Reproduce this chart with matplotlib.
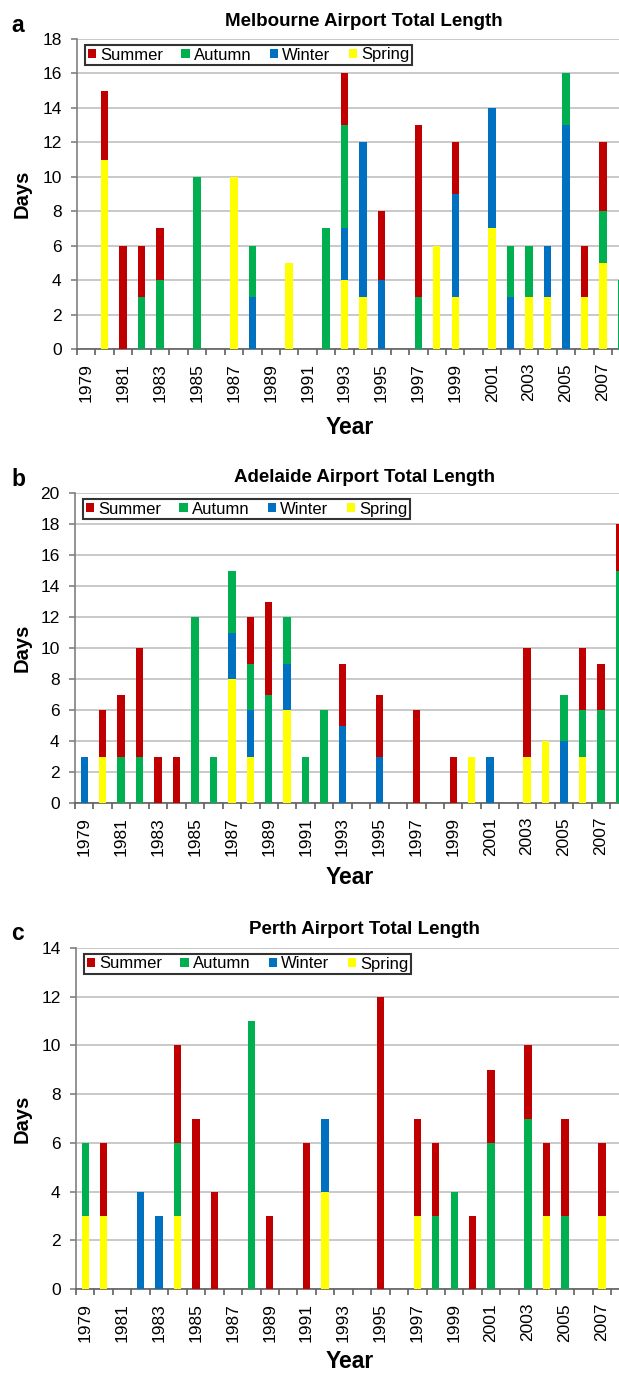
import numpy as np
import matplotlib
matplotlib.use('Agg')
import matplotlib.pyplot as plt
from matplotlib.patches import Patch

plt.rcParams['font.family'] = ['Liberation Sans', 'DejaVu Sans']

years = list(range(1979, 2009))
seasons = ['Summer', 'Autumn', 'Winter', 'Spring']
colors = {'Summer': '#C00000', 'Autumn': '#00B050', 'Winter': '#0070C0', 'Spring': '#FFFF00'}

# Melbourne
mel_summer = [0,4,6,3,3,0,0,0,0,0, 0,0,0,0,3,0,4,0,10,0, 3,0,0,0,0,0,0,3,4,0]
mel_autumn = [0,0,0,3,4,0,10,0,0,3, 0,0,0,7,6,0,0,0,3,0, 0,0,0,3,3,0,3,0,3,4]
mel_winter = [0,0,0,0,0,0,0,0,0,3, 0,0,0,0,3,9,4,0,0,0, 6,0,7,3,0,3,13,0,0,0]
mel_spring = [0,11,0,0,0,0,0,0,10,0, 0,5,0,0,4,3,0,0,0,6, 3,0,7,0,3,3,0,3,5,0]

# Adelaide
ade_summer = [0,3,4,7,3,3,0,0,0,3, 6,0,0,0,4,0,4,0,6,0, 3,0,0,0,7,0,0,4,3,3]
ade_autumn = [0,0,3,3,0,0,12,3,4,3, 7,3,3,6,0,0,0,0,0,0, 0,0,0,0,0,0,3,3,6,15]
ade_winter = [3,0,0,0,0,0,0,0,3,3, 0,3,0,0,5,0,3,0,0,0, 0,0,3,0,0,0,4,0,0,0]
ade_spring = [0,3,0,0,0,0,0,0,8,3, 0,6,0,0,0,0,0,0,0,0, 0,3,0,0,3,4,0,3,0,0]

# Perth
per_summer = [0,3,0,0,0,4,7,4,0,0, 3,0,6,0,0,0,12,0,4,3, 0,3,3,0,3,3,4,0,3,0]
per_autumn = [3,0,0,0,0,3,0,0,0,11, 0,0,0,0,0,0,0,0,0,3, 4,0,6,0,7,0,3,0,0,0]
per_winter = [0,0,0,4,3,0,0,0,0,0, 0,0,0,3,0,0,0,0,0,0, 0,0,0,0,0,0,0,0,0,0]
per_spring = [3,3,0,0,0,3,0,0,0,0, 0,0,0,4,0,0,0,0,3,0, 0,0,0,0,0,3,0,0,3,0]

W, H = 619, 1374
fig = plt.figure(figsize=(W/100, H/100), dpi=100)

def fx(px):
    return px / W

def fy(px):
    return 1 - px / H

panels = [
    ('a', 'Melbourne Airport Total Length', mel_summer, mel_autumn, mel_winter, mel_spring,
     18, 39, 349, 77, 22, 427),
    ('b', 'Adelaide Airport Total Length', ade_summer, ade_autumn, ade_winter, ade_spring,
     20, 493, 803, 75, 477, 878),
    ('c', 'Perth Airport Total Length', per_summer, per_autumn, per_winter, per_spring,
     14, 948, 1289, 76, 930, 1362),
]

x = np.arange(len(years))
for letter, title, su, au, wi, sp, ymax, top, bot, left, ty, yly in panels:
    ax = fig.add_axes([fx(left), fy(bot), 1 - fx(left), (bot - top) / H])
    bottom = np.zeros(len(years))
    for name, vals in [('Spring', sp), ('Winter', wi), ('Autumn', au), ('Summer', su)]:
        v = np.array(vals, dtype=float)
        ax.bar(x, v, width=0.4, bottom=bottom, color=colors[name], linewidth=0, zorder=3)
        bottom += v
    ax.set_yticks(np.arange(0, ymax + 1, 2))
    ax.yaxis.grid(True, color='#C0C0C0', linewidth=1.2, zorder=0)
    ax.set_axisbelow(True)
    for s in ['top', 'right']:
        ax.spines[s].set_visible(False)
    ax.spines['left'].set_color('#808080')
    ax.spines['bottom'].set_color('#606060')
    ax.spines['left'].set_linewidth(1.2)
    ax.spines['bottom'].set_linewidth(1.2)
    ax.tick_params(axis='y', direction='out', length=4, width=1.2, color='#808080',
                   labelsize=12.5, pad=7)
    ax.set_xticks(np.arange(len(years) + 1) - 0.5)
    ax.set_xticklabels([])
    ax.tick_params(axis='x', which='major', direction='out', length=4, width=1.2, color='#606060')
    ax.set_xticks(x[::2], minor=True)
    ax.set_xticklabels([str(y) for y in years[::2]], minor=True, rotation=90, fontsize=12.5)
    ax.tick_params(axis='x', which='minor', length=0, pad=10)
    # limits after the ticks, so the last year is cut at the edge
    ax.set_xlim(-0.5, (W - left) / 18.45 - 0.5)
    ax.set_ylim(0, ymax)

    handles = [Patch(facecolor=colors[s], edgecolor='none') for s in seasons]
    leg = ax.legend(handles, seasons, loc='upper left', ncol=4, fontsize=12,
                    bbox_to_anchor=(8 / (W - left), 1 - 6 / (bot - top)), borderaxespad=0,
                    frameon=True, fancybox=False, edgecolor='black', borderpad=0.15,
                    handlelength=0.5, handleheight=0.5, handletextpad=0.25,
                    columnspacing=1.1)
    leg.get_frame().set_linewidth(1.5)
    leg.set_zorder(5)

    fig.text(fx(364), fy(ty), title, ha='center', va='center', fontsize=13.5, fontweight='bold')
    fig.text(fx(18), fy(ty + 3), letter, ha='center', va='center', fontsize=16.5, fontweight='bold')
    fig.text(fx(22), fy((top + bot) / 2), 'Days', rotation=90, ha='center', va='center',
             fontsize=14.5, fontweight='bold')
    fig.text(fx(350), fy(yly), 'Year', ha='center', va='center', fontsize=16.5, fontweight='bold')

fig.savefig('out.png', dpi=100)
